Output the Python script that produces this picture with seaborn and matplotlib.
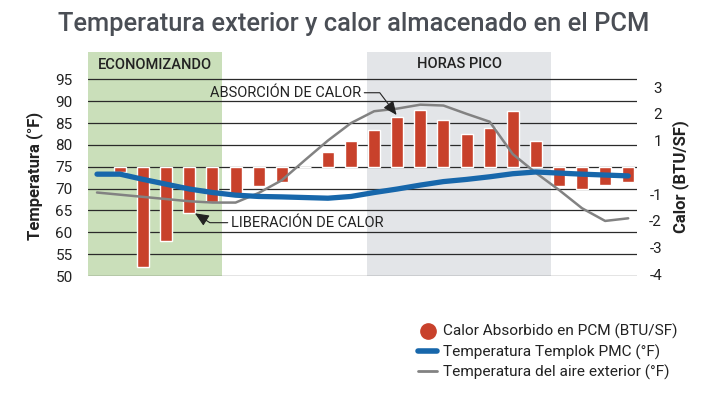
import matplotlib
matplotlib.use("Agg")
import matplotlib.pyplot as plt
from matplotlib.lines import Line2D
import seaborn as sns

# Datos (hora del día 0..23)
horas = list(range(24))
horas_barras = list(range(1, 24))
calor_btu = [-0.17, -3.75, -2.75, -1.70, -1.31, -1.08, -0.70, -0.54, 0.0, 0.58, 0.99,
             1.40, 1.88, 2.15, 1.77, 1.25, 1.48, 2.12, 0.99, -0.70, -0.82, -0.66, -0.55]
temp_templok = [73.3, 73.3, 72.1, 71.0, 69.9, 69.1, 68.5, 68.2, 68.1, 67.95, 67.8, 68.2,
                69.1, 69.9, 70.8, 71.6, 72.1, 72.7, 73.4, 73.8, 73.55, 73.3, 73.1, 72.9]
temp_exterior = [69.1, 68.6, 68.1, 67.6, 67.1, 66.8, 66.8, 69.0, 71.9, 76.5, 81.0, 85.0,
                 87.7, 88.3, 89.2, 89.0, 87.1, 85.3, 77.9, 73.6, 69.7, 65.5, 62.6, 63.2]

ticks_x = [0, 2, 4, 6, 8, 10, 12, 14, 16, 18, 20, 22]
etiquetas_x = ["12AM", "2AM", "4AM", "6AM", "8AM", "10AM", "12PM", "2PM", "4PM", "6PM", "8PM", "10PM"]
ticks_temp = [50, 55, 60, 65, 70, 75, 80, 85, 90, 95]
ticks_calor = [3, 2, 1, -1, -2, -3, -4]

periodo_economizando = (-0.39, 5.4)
periodo_pico = (11.7, 19.65)

ROJO = "#c8412b"
AZUL = "#1767ab"
GRIS = "#828282"
VERDE_FONDO = "#cadfba"
GRIS_FONDO = "#e3e5e8"
TEXTO = "#222222"

sns.set_theme(style="white")
plt.rcParams["font.family"] = ["Roboto", "DejaVu Sans"]
plt.rcParams["text.color"] = TEXTO

fig = plt.figure(figsize=(7.14, 3.96), dpi=100)
ax = fig.add_axes([88 / 714, 1 - 276 / 396, 549 / 714, 224 / 396])
ax_calor = ax.twinx()
ax_lineas = ax.twinx()

# Capa de fondo: periodos y rejilla
ax.axvspan(*periodo_economizando, color=VERDE_FONDO, lw=0, zorder=0)
ax.axvspan(*periodo_pico, color=GRIS_FONDO, lw=0, zorder=0)
for t in ticks_temp:
    ax.axhline(t, color="#2a2a2a", lw=0.9, zorder=1)
ax.set_ylim(50, 101.25)
ax.set_yticks(ticks_temp)
ax.tick_params(axis="y", length=0, pad=11, labelsize=11, colors=TEXTO)
ax.tick_params(axis="x", length=0, pad=10, labelsize=11, colors=TEXTO)

ax.text(2.52, 0.942, "ECONOMIZANDO", transform=ax.get_xaxis_transform(),
        ha="center", va="center", fontsize=10.5, fontweight="medium", color=TEXTO)
ax.text(15.7, 0.946, "HORAS PICO", transform=ax.get_xaxis_transform(),
        ha="center", va="center", fontsize=10.5, fontweight="medium", color=TEXTO)

# Barras de calor (eje derecho)
sns.barplot(x=horas_barras, y=calor_btu, native_scale=True, width=0.52,
            color=ROJO, saturation=1, errorbar=None, ax=ax_calor)
ax_calor.set_ylim(-4.07, 4.318)
ax_calor.set_yticks(ticks_calor)
ax_calor.set_yticklabels([str(v) for v in ticks_calor])
ax_calor.tick_params(axis="y", length=0, pad=18, labelsize=11, colors=TEXTO)
for lab in ax_calor.get_yticklabels():
    lab.set_ha("right")

# Líneas de temperatura (misma escala que el eje izquierdo)
sns.lineplot(x=horas, y=temp_exterior, color=GRIS, lw=1.8, ax=ax_lineas)
sns.lineplot(x=horas, y=temp_templok, color=AZUL, lw=3.8, ax=ax_lineas)
ax_lineas.set_ylim(ax.get_ylim())
ax_lineas.set_yticks([])

ax_lineas.annotate("ABSORCIÓN DE CALOR", xy=(12.97, 86.83), xytext=(11.43, 91.93),
                   ha="right", va="center", fontsize=10.5, color=TEXTO,
                   arrowprops=dict(arrowstyle="-|>,head_length=0.8,head_width=0.35",
                                   connectionstyle="angle,angleA=0,angleB=-53",
                                   color="#222222", lw=0.8, shrinkA=0, shrinkB=0))
ax_lineas.annotate("LIBERACIÓN DE CALOR", xy=(4.24, 64.34), xytext=(5.8, 62.2),
                   ha="left", va="center", fontsize=10.5, color=TEXTO,
                   arrowprops=dict(arrowstyle="-|>,head_length=0.8,head_width=0.35",
                                   connectionstyle="angle,angleA=0,angleB=-32",
                                   color="#222222", lw=0.8, shrinkA=0, shrinkB=0))

for a in (ax, ax_calor, ax_lineas):
    for s in a.spines.values():
        s.set_visible(False)
    a.set_xlim(-0.39, 23.38)
    a.set_xlabel("")
ax.set_xticks(ticks_x)
ax.set_xticklabels(etiquetas_x)
ax_calor.set_xticks([])
ax_lineas.set_xticks([])

ax.set_ylabel("Temperatura (°F)", fontsize=12, fontweight="bold", color=TEXTO)
ax.yaxis.set_label_coords(-0.0825, 0.447)
ax_calor.set_ylabel("Calor (BTU/SF)", fontsize=12, fontweight="bold", color=TEXTO)
ax_calor.yaxis.set_label_coords(1.0638, 0.444)

fig.text(58 / 714, 1 - 24 / 396, "Temperatura exterior y calor almacenado en el PCM",
         ha="left", va="center", fontsize=18.4, fontweight="medium", color="#4a4e55")

handles = [
    Line2D([], [], marker="o", ls="none", markersize=11, color=ROJO),
    Line2D([], [], color=AZUL, lw=4),
    Line2D([], [], color=GRIS, lw=2),
]
labels = ["Calor Absorbido en PCM (BTU/SF)", "Temperatura Templok PMC (°F)",
          "Temperatura del aire exterior (°F)"]
fig.legend(handles, labels, loc="upper left", bbox_to_anchor=(418 / 714, 1 - 324 / 396),
           frameon=False, fontsize=11.1, handlelength=1.25, handletextpad=0.35,
           labelspacing=0.33, borderpad=0, borderaxespad=0)

fig.savefig("out.png", dpi=100)
